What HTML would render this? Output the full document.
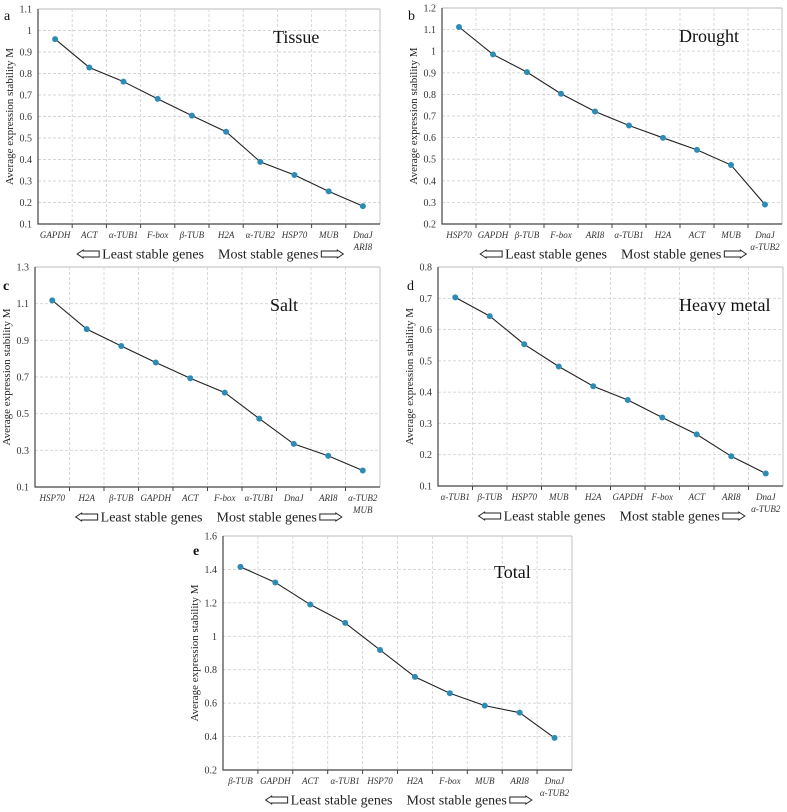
<!DOCTYPE html>
<html><head><meta charset="utf-8"><style>
body{margin:0;background:#fff;}
svg{display:block;font-family:"Liberation Serif",serif;}
</style></head><body>
<svg id="fig" width="787" height="812" viewBox="0 0 787 812"></svg>
<script>
const NS="http://www.w3.org/2000/svg";
const svg=document.getElementById('fig');
// Panel data
const catsA=["GAPDH","ACT","α-TUB1","F-box","β-TUB","H2A","α-TUB2","HSP70","MUB","DnaJ|ARI8"];
const valsA=[0.96,0.828,0.762,0.682,0.604,0.529,0.389,0.328,0.252,0.183];
const ticksA=["0.1","0.2","0.3","0.4","0.5","0.6","0.7","0.8","0.9","1","1.1"];
const catsB=["HSP70","GAPDH","β-TUB","F-box","ARI8","α-TUB1","H2A","ACT","MUB","DnaJ|α-TUB2"];
const valsB=[1.112,0.985,0.903,0.803,0.721,0.656,0.599,0.543,0.473,0.29];
const ticksB=["0.2","0.3","0.4","0.5","0.6","0.7","0.8","0.9","1","1.1","1.2"];
const catsC=["HSP70","H2A","β-TUB","GAPDH","ACT","F-box","α-TUB1","DnaJ","ARI8","α-TUB2|MUB"];
const valsC=[1.118,0.961,0.869,0.779,0.693,0.615,0.473,0.335,0.27,0.19];
const ticksC=["0.1","0.3","0.5","0.7","0.9","1.1","1.3"];
const catsD=["α-TUB1","β-TUB","HSP70","MUB","H2A","GAPDH","F-box","ACT","ARI8","DnaJ|α-TUB2"];
const valsD=[0.703,0.643,0.553,0.482,0.419,0.375,0.319,0.265,0.195,0.14];
const ticksD=["0.1","0.2","0.3","0.4","0.5","0.6","0.7","0.8"];
const catsE=["β-TUB","GAPDH","ACT","α-TUB1","HSP70","H2A","F-box","MUB","ARI8","DnaJ|α-TUB2"];
const valsE=[1.415,1.322,1.19,1.08,0.918,0.757,0.659,0.585,0.543,0.392];
const ticksE=["0.2","0.4","0.6","0.8","1","1.2","1.4","1.6"];

function el(tag,attrs,parent){const e=document.createElementNS(NS,tag);for(const k in attrs)e.setAttribute(k,attrs[k]);(parent||svg).appendChild(e);return e;}

function arrow(g,x,y,dir){
  const w=22,h=3,hw=6,hl=6;
  let d;
  if(dir<0) d=`M${x},${y} L${x+hl},${y-hw/1.5} V${y-h} H${x+w} V${y+h} H${x+hl} V${y+hw/1.5} Z`;
  else d=`M${x+w},${y} L${x+w-hl},${y-hw/1.5} V${y-h} H${x} V${y+h} H${x+w-hl} V${y+hw/1.5} Z`;
  const p=el('path',{d:d,fill:'#fff',stroke:'#222','stroke-width':1},g);
  
  
}

function panel(id,letter,title,cats,vals,ticks,box,titlePos){
  const g=el('g',{});
  
  
  const {x0,x1,y0,y1,lx,ly}=box;
  const tmin=parseFloat(ticks[0]),tmax=parseFloat(ticks[ticks.length-1]);
  const ys=v=>y1-(v-tmin)/(tmax-tmin)*(y1-y0);
  const n=cats.length,cw=(x1-x0)/n;
  const xs=i=>x0+cw*(i+0.5);
  ticks.forEach((t,i)=>{const y=ys(parseFloat(t));
    if(i>0){const l=el('line',{x1:x0,x2:x1,y1:y,y2:y,stroke:i==ticks.length-1?'#bbb':'#d4d4d4','stroke-dasharray':i==ticks.length-1?'':'3,2','stroke-width':0.9},g);
    }
    const tx=el('text',{x:x0-6,y:y+3.5,'text-anchor':'end','font-size':10,fill:'#333'},g);tx.textContent=t;
    
  });
  for(let i=1;i<=n;i++){const x=x0+cw*i;
    const l=el('line',{x1:x,x2:x,y1:y0,y2:y1,stroke:i==n?'#bbb':'#d4d4d4','stroke-dasharray':i==n?'':'3,2','stroke-width':0.9},g);
    
    if(i<n){const tk=el('line',{x1:x,x2:x,y1:y1,y2:y1+4,stroke:'#444','stroke-width':1},g);}
  }
  const ax=el('path',{d:`M${x0},${y0}V${y1}H${x1}`,fill:'none',stroke:'#444','stroke-width':1.2},g);
  
  const pts=vals.map((v,i)=>xs(i)+','+ys(v)).join(' ');
  const pl=el('polyline',{points:pts,fill:'none',stroke:'#222','stroke-width':1.1},g);
  
  vals.forEach((v,i)=>{const c=el('circle',{cx:xs(i),cy:ys(v),r:3,fill:'#2e8bb5'},g);
    });
  cats.forEach((c,i)=>{c.split('|').forEach((s,j)=>{
    const t=el('text',{x:xs(i),y:y1+14+j*12,'text-anchor':'middle','font-size':9,'font-style':'italic',fill:'#333'},g);t.textContent=s;
    });});
  const ay=y1+30, cx=(x0+x1)/2+2;
  const t1=el('text',{x:cx-7,y:ay+4.5,'text-anchor':'end','font-size':14,fill:'#222'},g);
  t1.textContent='Least stable genes';
  
  const t2=el('text',{x:cx+7,y:ay+4.5,'text-anchor':'start','font-size':14,fill:'#222'},g);
  t2.textContent='Most stable genes';
  
  const w1=t1.getComputedTextLength(), w2=t2.getComputedTextLength();
  arrow(g,cx-7-w1-25,ay,-1);
  arrow(g,cx+7+w2+3,ay,1);
  const yt=el('text',{x:0,y:0,transform:`translate(${lx},${(y0+y1)/2}) rotate(-90)`,'text-anchor':'middle','font-size':11,fill:'#222'},g);
  yt.textContent='Average  expression stability M';
  
  const lt=el('text',{x:ly[0],y:ly[1],'font-size':14,fill:'#111','font-weight':letter=='c'||letter=='e'?'bold':'normal'},g);lt.textContent=letter;
  
  const tt=el('text',{x:titlePos[0],y:titlePos[1],'font-size':18,fill:'#111'},g);tt.textContent=title;
  
}
panel('a','a','Tissue',catsA,valsA,ticksA,{x0:38,x1:380,y0:9,y1:224,lx:13,ly:[4,20]},[273,43]);
panel('b','b','Drought',catsB,valsB,ticksB,{x0:442,x1:782,y0:8,y1:224,lx:417,ly:[408,20]},[679,42]);
panel('c','c','Salt',catsC,valsC,ticksC,{x0:35,x1:380,y0:267,y1:487,lx:10,ly:[3,290]},[270,311]);
panel('d','d','Heavy metal',catsD,valsD,ticksD,{x0:438,x1:783,y0:267,y1:486,lx:413,ly:[407,290]},[679,311]);
panel('e','e','Total',catsE,valsE,ticksE,{x0:223,x1:572,y0:536,y1:770,lx:198,ly:[193,555]},[494,578]);
</script>
</body></html>
